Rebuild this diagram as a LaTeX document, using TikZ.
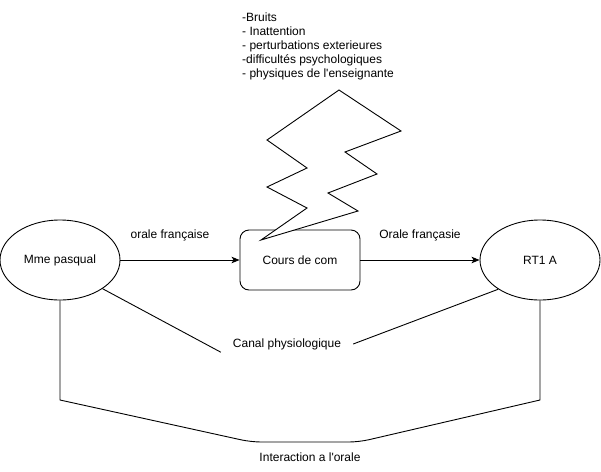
\documentclass[tikz,border=0pt]{standalone}
\usepackage{fontspec}
\setmainfont{Liberation Sans}
\usepackage{tikz}
\usetikzlibrary{arrows.meta,positioning,shapes.geometric,calc}

\begin{document}
\begin{tikzpicture}[
x=1pt,
y=-1pt,
every node/.style={font=\fontsize{12}{14}\selectfont,inner sep=0pt},
person/.style={ellipse,draw,line width=0.9pt,minimum width=120pt,minimum height=80pt},
course/.style={rectangle,rounded corners=9pt,draw,line width=0.9pt,minimum width=120pt,minimum height=60pt},
txt/.style={align=left},
lbl/.style={inner sep=0pt},
arr/.style={-{Stealth[length=8pt,width=6.5pt,inset=2pt]},line width=0.9pt},
link/.style={line width=0.9pt},
bolt/.style={draw,fill=white,line width=0.9pt,line join=miter}
]
\useasboundingbox (0,0) rectangle (601,471);
\node[person] (mme) at (60,260) {Mme pasqual};
\node[course] (cours) at (300,260) {Cours de com};
\node[person] (rt) at (540,260) {RT1 A};
\node[txt,anchor=north west] (bruits) at (242,13) {-Bruits\\- Inattention\\- perturbations exterieures\\-difficultés psychologiques\\- physiques de l\textquotesingle enseignante};
\node[lbl] (orale) at (170,235) {orale française};
\node[lbl] (oraleb) at (420,235) {Orale françasie};
\node[lbl,minimum width=132pt,minimum height=16pt] (canal) at (287,344) {Canal physiologique};
\node[lbl] (inter) at (310,457) {Interaction a l\textquotesingle orale};
\coordinate (lb) at (60,400);
\coordinate (bl) at (251,442);
\coordinate (br) at (359,442);
\coordinate (rb) at (540,400);

% eclair
\draw[bolt] (261,240) -- (307,208) -- (267,187) -- (307,168) -- (267,140) -- (339,90)
  -- (401,131) -- (345,152) -- (377,174) -- (328,193) -- (358,211) -- cycle;

\draw[arr] (mme) -- (cours);
\draw[arr] (cours) -- (rt);
\draw[link] (mme.-34) -- (canal.south west);
\draw[link] (canal.east) -- (rt.-145);
\draw[link] (mme.south) -- (lb) [rounded corners=10pt] -- (bl) -- (br) [sharp corners] -- (rb) -- (rt.south);
\end{tikzpicture}
\end{document}
